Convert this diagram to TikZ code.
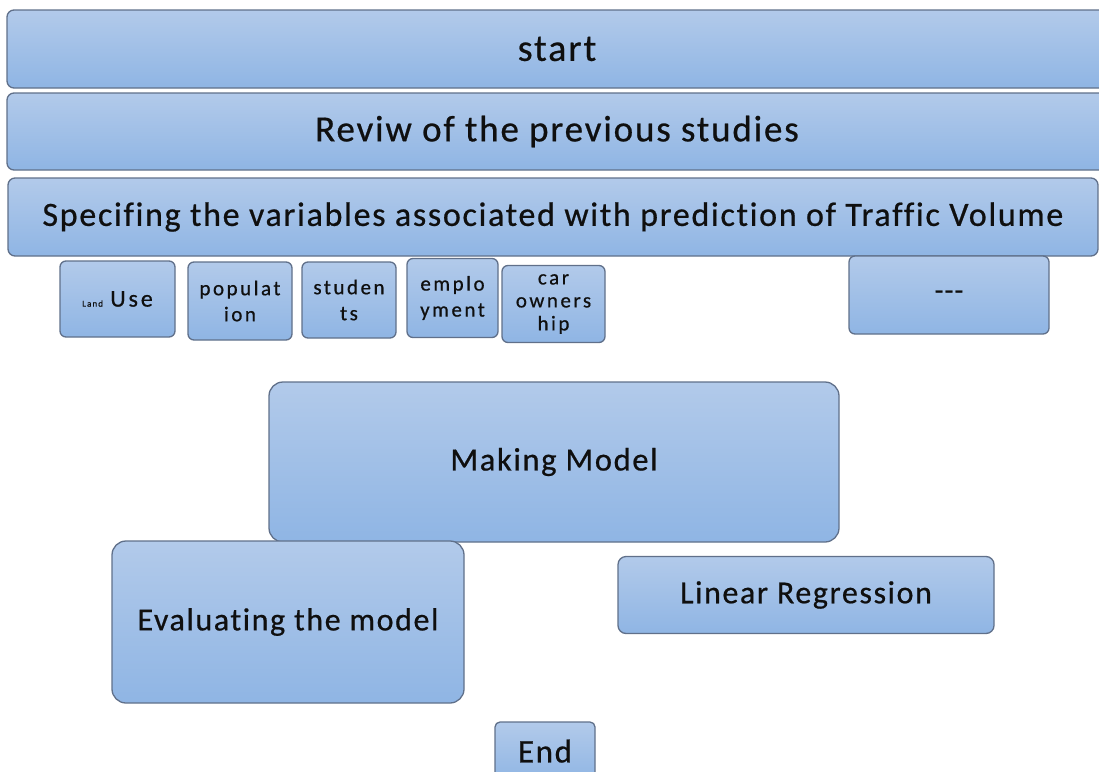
\documentclass[tikz,border=0pt]{standalone}
\usepackage{fontspec}
\setmainfont{Carlito}[LetterSpace=5,FakeBold=0.6,Ligatures=NoCommon]
\definecolor{boxtop}{RGB}{178,202,234}
\definecolor{boxbot}{RGB}{143,181,228}
\definecolor{boxline}{RGB}{96,112,138}
\definecolor{txt}{RGB}{15,15,15}
\begin{document}
\begin{tikzpicture}[x=1pt,y=-1pt,
  box/.style={draw=boxline, line width=1.3pt, top color=boxtop, bottom color=boxbot,
    rounded corners=#1, inner sep=0pt, text=txt, align=center},
  box/.default=7pt,
  small/.style={font=\fontsize{21}{26}\selectfont\addfontfeatures{LetterSpace=12}}]
\useasboundingbox (0,0) rectangle (1099,771);
\clip (0,0) rectangle (1099,771);
% top bars
\node[box, minimum width=1100pt, minimum height=78pt, font=\fontsize{38}{40}\selectfont] (start) at (557,49) {start};
\node[box, minimum width=1100pt, minimum height=77pt, font=\fontsize{37}{40}\selectfont] (rev) at (557,131.5) {Reviw of the previous studies};
\node[box, minimum width=1090pt, minimum height=78pt, font=\fontsize{34}{38}\selectfont] (spec) at (553,217) {Specifing the variables associated with prediction of Traffic Volume};
% small variable boxes
\node[box=6pt, minimum width=115pt, minimum height=76pt, small] (land) at (117.5,299) {{\fontsize{9}{10}\selectfont Land} {\fontsize{24}{26}\selectfont Use}};
\node[box=6pt, minimum width=104pt, minimum height=78pt, small] (pop) at (240,301) {populat\\ion};
\node[box=6pt, minimum width=94pt, minimum height=76pt, small] (stu) at (349,300) {studen\\ts};
\node[box=6pt, minimum width=91pt, minimum height=79pt, small] (emp) at (452.5,298) {emplo\\yment};
\node[box=6pt, minimum width=103pt, minimum height=77pt, small, font=\fontsize{21}{23}\selectfont\addfontfeatures{LetterSpace=12}] (car) at (553.5,304) {car\\owners\\hip};
\node[box=6pt, minimum width=200pt, minimum height=78pt, font=\fontsize{28}{30}\selectfont] (dots) at (949,295) {-{}-{}-};
% model boxes
\node[box=14pt, minimum width=570pt, minimum height=160pt, font=\fontsize{32.5}{36}\selectfont] (make) at (554,462) {Making Model};
\node[box=14pt, minimum width=352pt, minimum height=162pt, font=\fontsize{32}{36}\selectfont] (eval) at (288,622) {Evaluating the model};
\node[box=8pt, minimum width=376pt, minimum height=77pt, font=\fontsize{32}{36}\selectfont] (lin) at (806,595) {Linear Regression};
\node[box=5pt, minimum width=100pt, minimum height=60pt, font=\fontsize{33}{36}\selectfont, text depth=0pt] (end) at (545,752) {\raisebox{2pt}{End}};
\end{tikzpicture}
\end{document}
